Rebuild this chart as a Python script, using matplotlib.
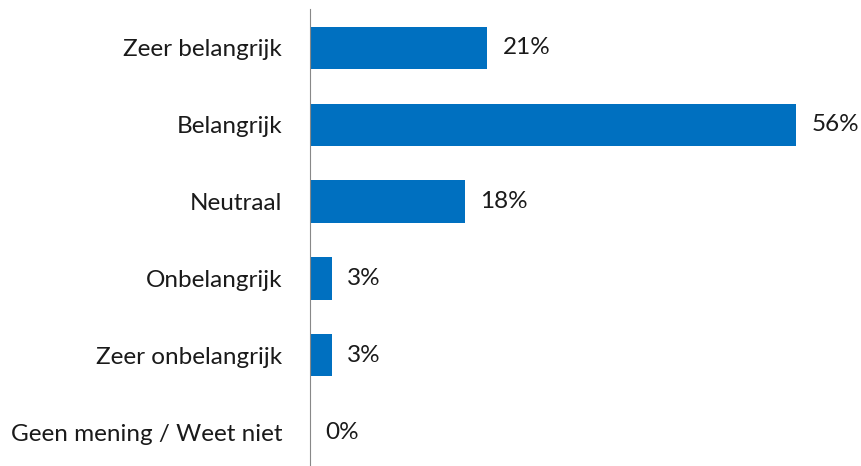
import matplotlib.pyplot as plt

categories = ['Zeer belangrijk', 'Belangrijk', 'Neutraal', 'Onbelangrijk',
              'Zeer onbelangrijk', 'Geen mening / Weet niet']
values = [20.4, 55.9, 17.8, 2.5, 2.5, 0.0]
labels = ['21%', '56%', '18%', '3%', '3%', '0%']

plt.rcParams['font.family'] = ['Lato', 'DejaVu Sans']

fig = plt.figure(figsize=(8.61, 4.66), dpi=100)
ax = fig.add_axes([0.36, 0.0, 0.62, 0.98])

pos = list(range(len(categories)))
ax.barh(pos, values, height=0.55, color='#0070C0')
for p, v, lab in zip(pos, values, labels):
    ax.text(v + 1.8, p, lab, va='center', ha='left', fontsize=17.5, color='#1a1a1a')

ax.set_yticks(pos)
ax.set_yticklabels(categories, fontsize=17.5, color='#1a1a1a')
ax.set_ylim(5.44, -0.5)
ax.set_xlim(0, 61.4)
ax.set_xticks([])
for s in ['top', 'right', 'bottom']:
    ax.spines[s].set_visible(False)
ax.spines['left'].set_color('#888888')
ax.tick_params(axis='y', length=0, pad=20)

fig.savefig('out.png', dpi=100)
